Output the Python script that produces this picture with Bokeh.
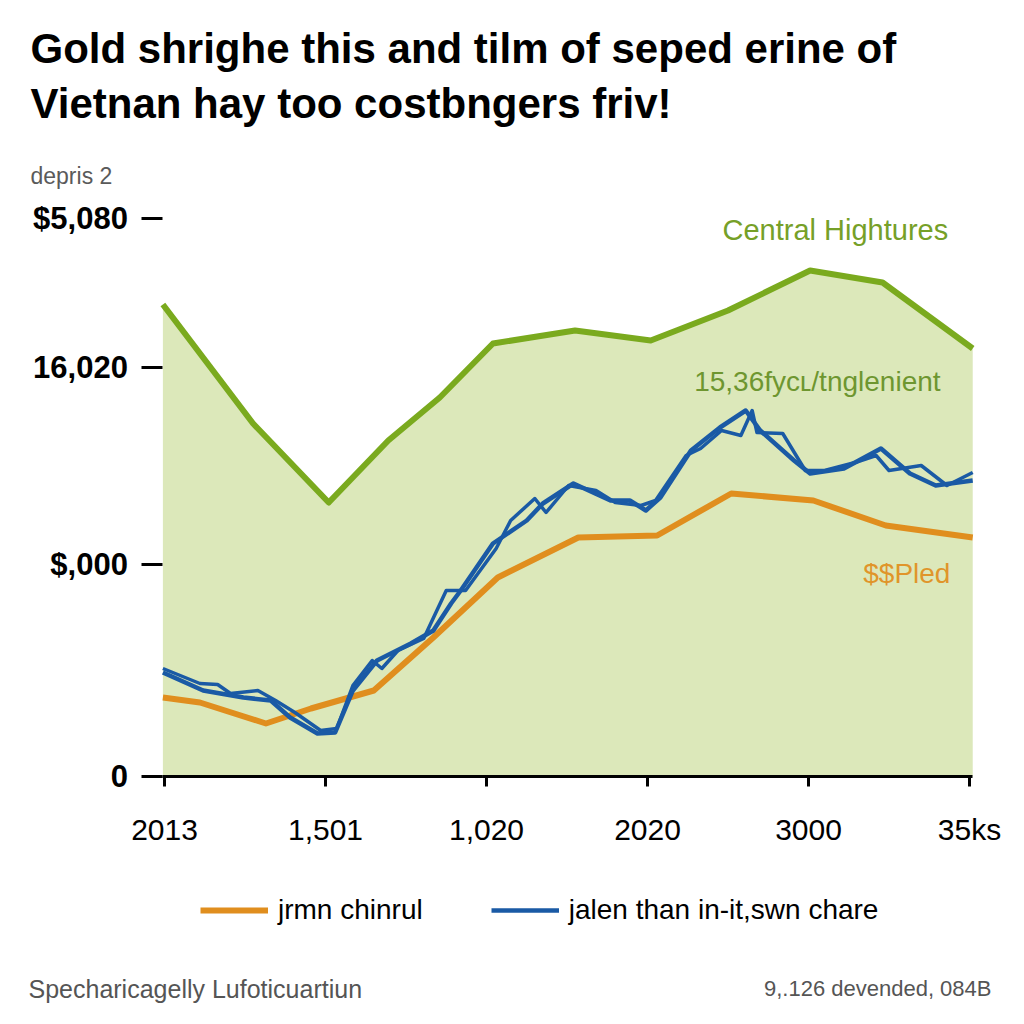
from bokeh.plotting import figure
from bokeh.models import Legend, LegendItem, FixedTicker, Label, Range1d
from bokeh.embed import file_html
from bokeh.resources import INLINE

# ---- texts ----
title_line1 = "Gold shrighe this and tilm of seped erine of"
title_line2 = "Vietnan hay too costbngers friv!"
subtitle = "depris 2"
footnote_left = "Specharicagelly Lufoticuartiun"
footnote_right = "9,.126 devended, 084B"
series_labels = ["jrmn chinrul", "jalen than in-it,swn chare"]
label_green = "Central Hightures"
label_green2 = "15,36fycʟ/tnglenient"
label_orange = "$$Pled"

# ---- ticks ----
x_ticks = [0, 1, 2, 3, 4, 5]
x_labels = ["2013", "1,501", "1,020", "2020", "3000", "35ks"]
y_ticks = [0, 212, 409, 558]
y_labels = ["0", "$,000", "16,020", "$5,080"]

# ---- series ----
green_x = [-0.01, 0.55, 1.02, 1.39, 1.71, 2.04, 2.55, 3.02, 3.50, 4.01, 4.46, 5.02]
green_y = [472, 353, 274, 336, 379, 433, 446, 436, 466, 506, 494, 428]

orange_x = [-0.01, 0.22, 0.63, 0.91, 1.30, 1.67, 2.07, 2.57, 3.06, 3.52, 4.03, 4.48, 5.02]
orange_y = [79, 74, 53, 68, 86, 139, 199, 239, 241, 283, 276, 251, 239]

blue_x = [-0.01, 0.24, 0.49, 0.66, 0.78, 0.95, 1.06, 1.17, 1.32, 1.53, 1.67, 1.78,
          1.84, 2.04, 2.25, 2.35, 2.54, 2.77, 2.89, 2.99, 3.08, 3.27, 3.45, 3.61,
          3.70, 3.91, 4.01, 4.22, 4.45, 4.63, 4.79, 5.02]
blue_y = [104, 86, 79, 76, 59, 43, 44, 86, 116, 133, 146, 173,
          186, 233, 256, 273, 293, 276, 276, 266, 279, 326, 349, 366,
          346, 316, 303, 308, 328, 303, 291, 296]

blue2_x = [-0.01, 0.22, 0.33, 0.41, 0.58, 0.69, 0.81, 0.97, 1.07, 1.17, 1.29, 1.35,
           1.45, 1.61, 1.75, 1.87, 2.06, 2.15, 2.30, 2.37, 2.51, 2.68, 2.80, 2.96,
           3.05, 3.24, 3.33, 3.46, 3.58, 3.65, 3.68, 3.84, 3.98, 4.10, 4.29, 4.42,
           4.50, 4.70, 4.86, 5.02]
blue2_y = [108, 93, 92, 83, 86, 76, 64, 46, 48, 91, 116, 108,
           126, 138, 186, 186, 228, 256, 278, 264, 291, 286, 274, 271,
           276, 321, 328, 346, 341, 366, 344, 343, 306, 306, 314, 321,
           306, 311, 291, 304]

GREEN = "#7aaa1e"
FILL = "#dce8ba"
ORANGE = "#e08e1e"
BLUE = "#1a5aa5"

# the frame covers the whole canvas; axes are pinned at fixed data locations
p = figure(width=1008, height=1008,
           x_range=Range1d(-164 / 161, 844 / 161), y_range=Range1d(-232, 776),
           output_backend="svg", toolbar_location=None, title=None,
           min_border=0)
p.outline_line_color = None
p.xgrid.grid_line_color = None
p.ygrid.grid_line_color = None
p.background_fill_color = "white"
p.border_fill_color = "white"

p.varea(x=green_x, y1=[0] * len(green_x), y2=green_y, fill_color=FILL)
p.line(green_x, green_y, line_color=GREEN, line_width=6, line_join="round")
r_orange = p.line(orange_x, orange_y, line_color=ORANGE, line_width=6, line_join="round")
p.line(blue2_x, blue2_y, line_color=BLUE, line_width=3.5, line_join="round")
r_blue = p.line(blue_x, blue_y, line_color=BLUE, line_width=4.5, line_join="round")

# x axis
xa = p.xaxis[0]
xa.fixed_location = 0
xa.bounds = (-0.01, 5.02)
xa.ticker = FixedTicker(ticks=x_ticks)
xa.major_label_overrides = {t: l for t, l in zip(x_ticks, x_labels)}
xa.axis_line_width = 3
xa.axis_line_color = "black"
xa.major_tick_line_width = 3
xa.major_tick_out = 10
xa.major_tick_in = 0
xa.minor_tick_line_color = None
xa.major_label_standoff = 26
xa.major_label_text_font = "Liberation Sans"
xa.major_label_text_font_size = "30px"
xa.major_label_text_color = "black"

# y axis
ya = p.yaxis[0]
ya.fixed_location = -0.01
ya.bounds = (0, 576)
ya.ticker = FixedTicker(ticks=y_ticks)
ya.major_label_overrides = {t: l for t, l in zip(y_ticks, y_labels)}
ya.axis_line_color = None
ya.major_tick_line_width = 3
ya.major_tick_out = 21
ya.major_tick_in = 0
ya.minor_tick_line_color = None
ya.major_label_standoff = 14
ya.major_label_text_font = "Liberation Sans"
ya.major_label_text_font_style = "bold"
ya.major_label_text_font_size = "31px"
ya.major_label_text_color = "black"

# in-plot labels
p.add_layout(Label(x=3.466, y=547, text=label_green, text_color="#76a028",
                   text_font="Liberation Sans", text_font_size="29px",
                   text_baseline="middle"))
p.add_layout(Label(x=3.29, y=395, text=label_green2, text_color="#6e9630",
                   text_font="Liberation Sans", text_font_size="28px",
                   text_baseline="middle"))
p.add_layout(Label(x=4.34, y=203, text=label_orange, text_color="#e0952a",
                   text_font="Liberation Sans", text_font_size="28px",
                   text_baseline="middle"))

# header and footer (screen units: from the canvas bottom-left, vertically centred)
def screen_label(text, x, y, size, color, style="normal", align="left"):
    return Label(x=x, y=y, x_units="screen", y_units="screen", text=text,
                 text_font="Liberation Sans", text_font_style=style,
                 text_font_size=size, text_color=color, text_align=align,
                 text_baseline="middle")

p.add_layout(screen_label(title_line1, 30, 960, "42px", "black", "bold"))
p.add_layout(screen_label(title_line2, 30, 905, "42px", "black", "bold"))
p.add_layout(screen_label(subtitle, 30, 833, "23px", "#5a5a5a"))
p.add_layout(screen_label(footnote_left, 28, 20, "25px", "#555555"))
p.add_layout(screen_label(footnote_right, 991, 20, "22px", "#555555", align="right"))

# legend below the axis
legend = Legend(items=[LegendItem(label=series_labels[0], renderers=[r_orange]),
                       LegendItem(label=series_labels[1], renderers=[r_blue])],
                location=(200, 82), orientation="horizontal",
                glyph_width=68, glyph_height=30, label_height=30,
                label_standoff=10, spacing=68,
                label_text_font="Liberation Sans", label_text_font_size="28px",
                label_text_color="black", padding=6, margin=0,
                background_fill_alpha=0, border_line_color=None)
p.add_layout(legend)

open("out.html", "w").write(file_html(p, INLINE))
